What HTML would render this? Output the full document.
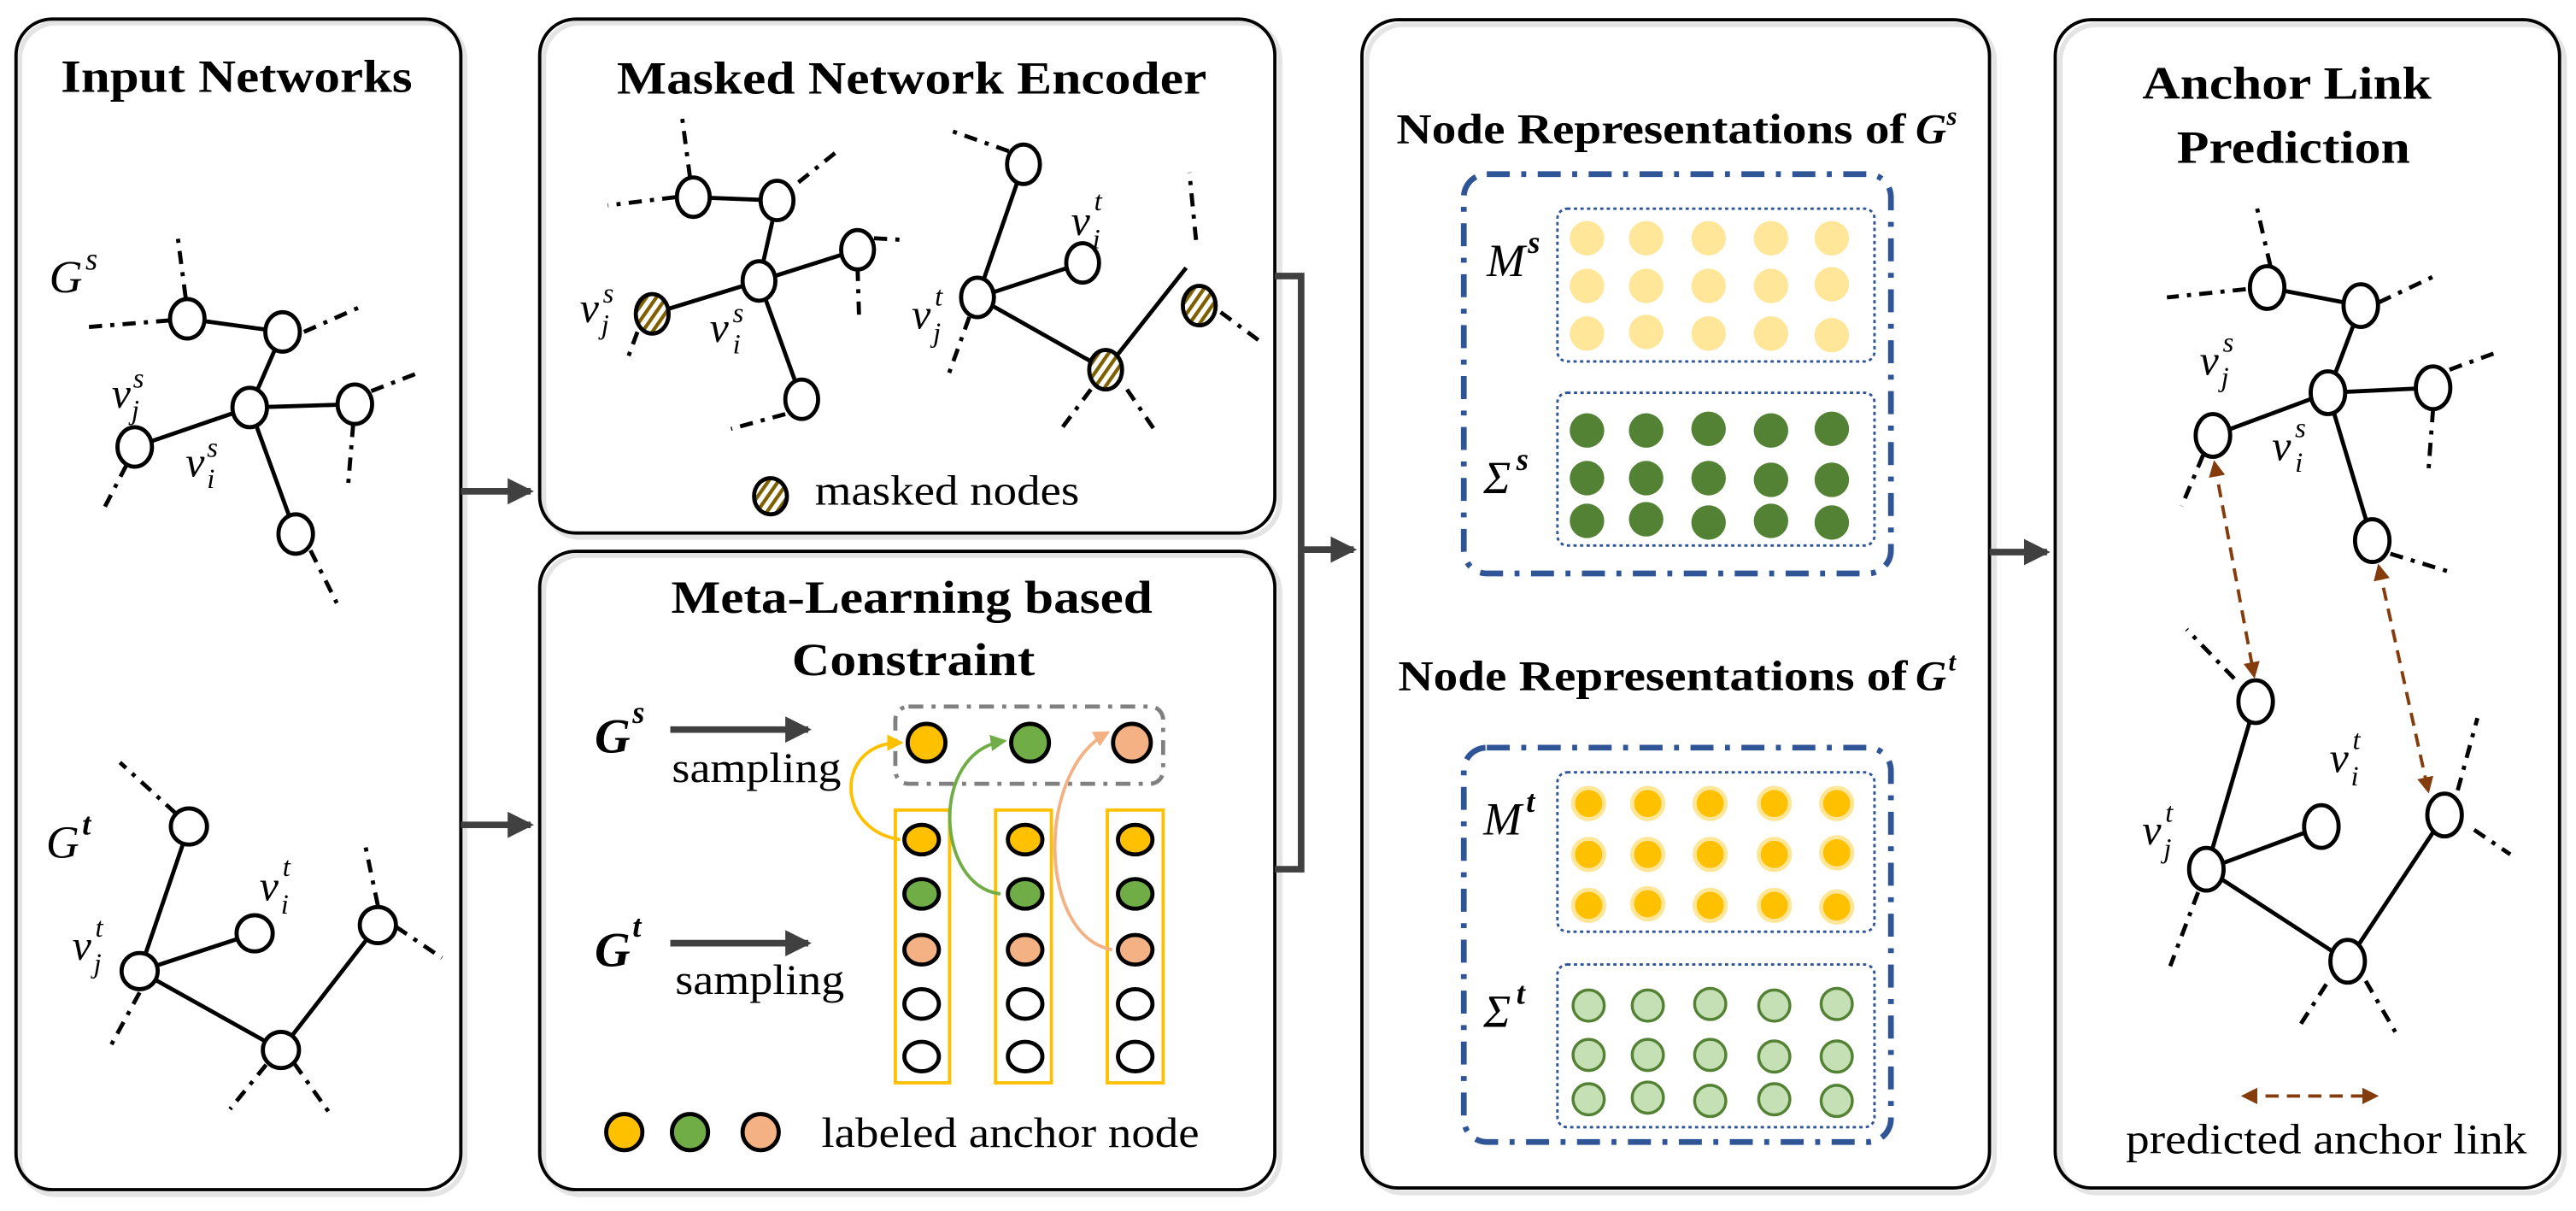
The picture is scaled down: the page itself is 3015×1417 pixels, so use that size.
<!DOCTYPE html>
<html><head><meta charset="utf-8"><style>
html,body{margin:0;padding:0;background:#fff;}
svg{display:block;}
text{font-family:"Liberation Serif",serif;}
</style></head><body>
<svg width="3015" height="1417" viewBox="0 0 1568 737" preserveAspectRatio="none" xmlns="http://www.w3.org/2000/svg">
<defs>
<pattern id="hatch" patternUnits="userSpaceOnUse" width="5" height="5" patternTransform="rotate(35)">
<rect width="5" height="5" fill="#fff"/><rect width="2.2" height="5" fill="#7F6000"/>
</pattern>
<marker id="ag" markerWidth="4" markerHeight="4" refX="3.5" refY="2" orient="auto" markerUnits="strokeWidth"><path d="M0,0 L4,2 L0,4 z" fill="#404040"/></marker>
<marker id="my" markerWidth="5" markerHeight="5" refX="4" refY="2.5" orient="auto" markerUnits="strokeWidth"><path d="M0,0 L5,2.5 L0,5 z" fill="#FFC000"/></marker>
<marker id="mg" markerWidth="5" markerHeight="5" refX="4" refY="2.5" orient="auto" markerUnits="strokeWidth"><path d="M0,0 L5,2.5 L0,5 z" fill="#70AD47"/></marker>
<marker id="mp" markerWidth="5" markerHeight="5" refX="4" refY="2.5" orient="auto" markerUnits="strokeWidth"><path d="M0,0 L5,2.5 L0,5 z" fill="#F4B183"/></marker>
<marker id="mb" markerWidth="5" markerHeight="5" refX="4" refY="2.5" orient="auto-start-reverse" markerUnits="strokeWidth"><path d="M0,0 L5,2.5 L0,5 z" fill="#843C0C"/></marker>
</defs>

<!-- panel shadows -->
<g fill="none" stroke="#e4e4e4" stroke-width="3">
<rect x="12" y="14" width="271" height="713" rx="22"/>
<rect x="331" y="14" width="448" height="313" rx="22"/>
<rect x="331" y="338" width="448" height="389" rx="22"/>
<rect x="832" y="15" width="382" height="711" rx="22"/>
<rect x="1254" y="15" width="307" height="711" rx="22"/>
</g>
<g fill="none" stroke="#000" stroke-width="2">
<rect x="9.75" y="11.6" width="270.75" height="712.4" rx="22"/>
<rect x="328.5" y="11.6" width="447.5" height="312.8" rx="22"/>
<rect x="328.5" y="335.5" width="447.5" height="388.5" rx="22"/>
<rect x="829" y="12" width="382" height="711" rx="22"/>
<rect x="1251" y="12" width="307" height="711" rx="22"/>
</g>

<!-- connectors -->
<g stroke="#404040" stroke-width="4" fill="none">
<line x1="280.5" y1="299" x2="323" y2="299" marker-end="url(#ag)"/>
<line x1="280.5" y1="502" x2="323" y2="502" marker-end="url(#ag)"/>
<polyline points="776,168 792,168 792,529 776,529"/>
<line x1="792" y1="334.5" x2="824" y2="334.5" marker-end="url(#ag)"/>
<line x1="1211" y1="336" x2="1246" y2="336" marker-end="url(#ag)"/>
</g>

<!-- titles -->
<g font-weight="bold" font-size="28" text-anchor="middle" fill="#000">
<text x="144" y="56" textLength="214" lengthAdjust="spacingAndGlyphs">Input Networks</text>
<text x="555" y="57" textLength="359" lengthAdjust="spacingAndGlyphs">Masked Network Encoder</text>
<text x="555" y="373" textLength="293" lengthAdjust="spacingAndGlyphs">Meta-Learning based</text>
<text x="556" y="411" textLength="148" lengthAdjust="spacingAndGlyphs">Constraint</text>
<text x="1392" y="60" textLength="176" lengthAdjust="spacingAndGlyphs">Anchor Link</text>
<text x="1396" y="99" textLength="142" lengthAdjust="spacingAndGlyphs">Prediction</text>
</g>
<g font-weight="bold" font-size="26" fill="#000">
<text x="850" y="87" textLength="310" lengthAdjust="spacingAndGlyphs">Node Representations of</text>
<text x="1166" y="87" font-style="italic">G</text><text x="1185" y="76" font-size="16" font-style="italic">s</text>
<text x="851" y="420" textLength="310" lengthAdjust="spacingAndGlyphs">Node Representations of</text>
<text x="1166" y="420" font-style="italic">G</text><text x="1186" y="408" font-size="16" font-style="italic">t</text>
</g>

<!-- ===== Panel 1 graphs ===== -->
<g stroke="#000" stroke-width="2.5" fill="none">
<line x1="114" y1="194" x2="172" y2="202"/><line x1="172" y1="202" x2="152" y2="248"/>
<line x1="152" y1="248" x2="216" y2="246"/><line x1="152" y1="248" x2="82" y2="272"/>
<line x1="152" y1="248" x2="180" y2="325"/>
<line x1="115" y1="503" x2="85" y2="591"/><line x1="85" y1="591" x2="155" y2="568"/>
<line x1="85" y1="591" x2="171" y2="639"/><line x1="171" y1="639" x2="230" y2="563"/>
</g>
<g stroke="#000" stroke-width="2.5" fill="none" stroke-dasharray="8 5 2.5 5">
<line x1="113" y1="181" x2="108" y2="143"/><line x1="103" y1="195" x2="54" y2="199"/>
<line x1="185" y1="202" x2="221" y2="186"/><line x1="226" y1="238" x2="257" y2="226"/>
<line x1="215" y1="258" x2="212" y2="294"/><line x1="77" y1="283" x2="63" y2="310"/>
<line x1="189" y1="335" x2="205" y2="367"/>
<line x1="107" y1="495" x2="73" y2="464"/><line x1="85" y1="604" x2="66" y2="639"/>
<line x1="230" y1="551" x2="222" y2="513"/><line x1="241" y1="564" x2="269" y2="583"/>
<line x1="162" y1="648" x2="140" y2="675"/><line x1="179" y1="647" x2="201" y2="678"/>
</g>
<g stroke="#000" stroke-width="2.5" fill="#fff">
<ellipse cx="114" cy="194" rx="10.5" ry="12"/><ellipse cx="172" cy="202" rx="10.5" ry="12"/>
<ellipse cx="152" cy="248" rx="10.5" ry="12"/><ellipse cx="216" cy="246" rx="10.5" ry="12"/>
<ellipse cx="82" cy="272" rx="10.5" ry="12"/><ellipse cx="180" cy="325" rx="10.5" ry="12"/>
<ellipse cx="115" cy="503" rx="11" ry="11"/><ellipse cx="155" cy="568" rx="11" ry="11"/>
<ellipse cx="85" cy="591" rx="11" ry="11"/><ellipse cx="230" cy="563" rx="11" ry="11"/>
<ellipse cx="171" cy="639" rx="11" ry="11"/>
</g>
<g font-style="italic" fill="#000" font-size="28">
<text x="30" y="178">G</text><text x="52" y="164" font-size="19">s</text>
<text x="28" y="522">G</text><text x="50" y="508" font-size="19" font-weight="bold">t</text>
<text x="68" y="248" font-size="26">v</text><text x="81" y="236" font-size="17">s</text><text x="80" y="255" font-size="17">j</text>
<text x="113" y="290" font-size="26">v</text><text x="126" y="278" font-size="17">s</text><text x="126" y="297" font-size="17">i</text>
<text x="158" y="548" font-size="26">v</text><text x="172" y="533" font-size="17">t</text><text x="171" y="556" font-size="17">i</text>
<text x="44" y="584" font-size="26">v</text><text x="58" y="570" font-size="17">t</text><text x="57" y="592" font-size="17">j</text>
</g>

<!-- ===== Masked encoder ===== -->
<g stroke="#000" stroke-width="2.5" fill="none">
<line x1="422" y1="120" x2="473" y2="122"/><line x1="473" y1="122" x2="462" y2="171"/>
<line x1="462" y1="171" x2="522" y2="152"/><line x1="462" y1="171" x2="397" y2="191"/>
<line x1="462" y1="171" x2="488" y2="243"/>
<line x1="623" y1="100" x2="595" y2="181"/><line x1="595" y1="181" x2="659" y2="160"/>
<line x1="595" y1="181" x2="673" y2="225"/><line x1="673" y1="225" x2="722" y2="163"/>
</g>
<g stroke="#000" stroke-width="2.5" fill="none" stroke-dasharray="8 5 2.5 5">
<line x1="420" y1="108" x2="415" y2="70"/><line x1="411" y1="120" x2="370" y2="125"/>
<line x1="486" y1="111" x2="511" y2="91"/><line x1="532" y1="145" x2="550" y2="146"/>
<line x1="522" y1="163" x2="523" y2="196"/><line x1="388" y1="202" x2="381" y2="221"/>
<line x1="478" y1="252" x2="445" y2="261"/>
<line x1="614" y1="92" x2="580" y2="80"/><line x1="590" y1="193" x2="577" y2="229"/>
<line x1="743" y1="190" x2="766" y2="207"/><line x1="728" y1="146" x2="724" y2="105"/>
<line x1="664" y1="237" x2="646" y2="261"/><line x1="686" y1="237" x2="703" y2="262"/>
</g>
<g stroke="#000" stroke-width="2.5" fill="#fff">
<ellipse cx="422" cy="120" rx="10" ry="12"/><ellipse cx="473" cy="122" rx="10" ry="12"/>
<ellipse cx="462" cy="171" rx="10" ry="12"/><ellipse cx="522" cy="152" rx="10" ry="12"/>
<ellipse cx="397" cy="191" rx="10" ry="12" fill="url(#hatch)"/><ellipse cx="488" cy="243" rx="10" ry="12"/>
<ellipse cx="623" cy="100" rx="10" ry="12"/><ellipse cx="659" cy="160" rx="10" ry="12"/>
<ellipse cx="595" cy="181" rx="10" ry="12"/><ellipse cx="730" cy="186" rx="10" ry="12" fill="url(#hatch)"/>
<ellipse cx="673" cy="225" rx="10" ry="12" fill="url(#hatch)"/>
<ellipse cx="469" cy="302" rx="10" ry="11" fill="url(#hatch)"/>
</g>
<g font-style="italic" fill="#000" font-size="26">
<text x="353" y="196">v</text><text x="367" y="184" font-size="17">s</text><text x="366" y="203" font-size="17">j</text>
<text x="432" y="208">v</text><text x="446" y="196" font-size="17">s</text><text x="446" y="215" font-size="17">i</text>
<text x="652" y="143">v</text><text x="666" y="128" font-size="17">t</text><text x="665" y="151" font-size="17">i</text>
<text x="555" y="200">v</text><text x="569" y="186" font-size="17">t</text><text x="568" y="208" font-size="17">j</text>
</g>
<text x="496" y="307" font-size="26" textLength="161" lengthAdjust="spacingAndGlyphs">masked nodes</text>

<!-- ===== Meta-learning ===== -->
<g font-style="italic" font-weight="bold" fill="#000" font-size="30">
<text x="362" y="458">G</text><text x="385" y="440" font-size="19">s</text>
<text x="362" y="588">G</text><text x="385" y="570" font-size="19">t</text>
</g>
<g stroke="#404040" stroke-width="4" fill="none">
<line x1="408" y1="444" x2="492" y2="444" marker-end="url(#ag)"/>
<line x1="408" y1="574" x2="492" y2="574" marker-end="url(#ag)"/>
</g>
<text x="409" y="476" font-size="26" textLength="103" lengthAdjust="spacingAndGlyphs">sampling</text>
<text x="411" y="605" font-size="26" textLength="103" lengthAdjust="spacingAndGlyphs">sampling</text>
<rect x="545" y="430" width="163" height="47" rx="8" fill="none" stroke="#808080" stroke-width="2.5" stroke-dasharray="9 5 2.5 5"/>
<g fill="none" stroke="#FFC000" stroke-width="2">
<rect x="545" y="493" width="33" height="166"/><rect x="606" y="493" width="34" height="166"/><rect x="674" y="493" width="34" height="166"/>
</g>
<g fill="none" stroke-width="2">
<path d="M548,511 C508,505 508,452 548,452" stroke="#FFC000" marker-end="url(#my)"/>
<path d="M609,544 C570,540 565,458 611,451" stroke="#70AD47" marker-end="url(#mg)"/>
<path d="M677,578 C632,570 630,470 674,446" stroke="#F4B183" marker-end="url(#mp)"/>
</g>
<g stroke="#000" stroke-width="2.5">
<ellipse cx="564" cy="452" rx="11.5" ry="11.5" fill="#FFC000"/>
<ellipse cx="627" cy="452" rx="11.5" ry="11.5" fill="#70AD47"/>
<ellipse cx="689" cy="452" rx="11.5" ry="11.5" fill="#F4B183"/>
<g id="col">
<ellipse cx="561" cy="511" rx="10.5" ry="9" fill="#FFC000"/>
<ellipse cx="561" cy="544" rx="10.5" ry="9" fill="#70AD47"/>
<ellipse cx="561" cy="578" rx="10.5" ry="9" fill="#F4B183"/>
<ellipse cx="561" cy="611" rx="10.5" ry="9" fill="#fff"/>
<ellipse cx="561" cy="643" rx="10.5" ry="9" fill="#fff"/>
</g>
<use href="#col" x="63"/><use href="#col" x="130"/>
<ellipse cx="380" cy="689" rx="11" ry="11" fill="#FFC000"/>
<ellipse cx="420" cy="689" rx="11" ry="11" fill="#70AD47"/>
<ellipse cx="463" cy="689" rx="11" ry="11" fill="#F4B183"/>
</g>
<text x="500" y="698" font-size="26" textLength="230" lengthAdjust="spacingAndGlyphs">labeled anchor node</text>

<!-- ===== Node representations ===== -->
<g fill="none" stroke="#2F5597">
<rect x="891" y="106" width="260" height="243" rx="14" stroke-width="3.5" stroke-dasharray="14 7 3 7"/>
<rect x="891" y="455" width="260" height="240" rx="14" stroke-width="3.5" stroke-dasharray="14 7 3 7"/>
<g stroke-width="1.5" stroke-dasharray="2 2">
<rect x="948" y="127" width="193" height="93" rx="6"/>
<rect x="948" y="239" width="193" height="93" rx="6"/>
<rect x="948" y="470" width="193" height="97" rx="6"/>
<rect x="948" y="587" width="193" height="99" rx="6"/>
</g>
</g>
<g fill="#FFE699">
<circle cx="966" cy="145" r="10.5"/><circle cx="1002" cy="145" r="10.5"/><circle cx="1040" cy="145" r="10.5"/><circle cx="1078" cy="145" r="10.5"/><circle cx="1115" cy="145" r="10.5"/>
<circle cx="966" cy="174" r="10.5"/><circle cx="1002" cy="174" r="10.5"/><circle cx="1040" cy="174" r="10.5"/><circle cx="1078" cy="174" r="10.5"/><circle cx="1115" cy="173" r="10.5"/>
<circle cx="966" cy="203" r="10.5"/><circle cx="1002" cy="202" r="10.5"/><circle cx="1040" cy="203" r="10.5"/><circle cx="1078" cy="203" r="10.5"/><circle cx="1115" cy="204" r="10.5"/>
</g>
<g fill="#548235">
<circle cx="966" cy="262" r="10.5"/><circle cx="1002" cy="262" r="10.5"/><circle cx="1040" cy="261" r="10.5"/><circle cx="1078" cy="262" r="10.5"/><circle cx="1115" cy="261" r="10.5"/>
<circle cx="966" cy="291" r="10.5"/><circle cx="1002" cy="291" r="10.5"/><circle cx="1040" cy="291" r="10.5"/><circle cx="1078" cy="292" r="10.5"/><circle cx="1115" cy="292" r="10.5"/>
<circle cx="966" cy="317" r="10.5"/><circle cx="1002" cy="316" r="10.5"/><circle cx="1040" cy="318" r="10.5"/><circle cx="1078" cy="317" r="10.5"/><circle cx="1115" cy="318" r="10.5"/>
</g>
<g fill="#FFC000" stroke="#FFE699" stroke-width="2.5">
<circle cx="967" cy="489" r="9.5"/><circle cx="1003" cy="489" r="9.5"/><circle cx="1041" cy="489" r="9.5"/><circle cx="1080" cy="489" r="9.5"/><circle cx="1118" cy="489" r="9.5"/>
<circle cx="967" cy="520" r="9.5"/><circle cx="1003" cy="520" r="9.5"/><circle cx="1041" cy="520" r="9.5"/><circle cx="1080" cy="520" r="9.5"/><circle cx="1118" cy="519" r="9.5"/>
<circle cx="967" cy="551" r="9.5"/><circle cx="1003" cy="550" r="9.5"/><circle cx="1041" cy="551" r="9.5"/><circle cx="1080" cy="551" r="9.5"/><circle cx="1118" cy="552" r="9.5"/>
</g>
<g fill="#C5E0B4" stroke="#548235" stroke-width="1.8">
<circle cx="967" cy="612" r="9.5"/><circle cx="1003" cy="612" r="9.5"/><circle cx="1041" cy="611" r="9.5"/><circle cx="1080" cy="612" r="9.5"/><circle cx="1118" cy="611" r="9.5"/>
<circle cx="967" cy="642" r="9.5"/><circle cx="1003" cy="642" r="9.5"/><circle cx="1041" cy="642" r="9.5"/><circle cx="1080" cy="643" r="9.5"/><circle cx="1118" cy="643" r="9.5"/>
<circle cx="967" cy="669" r="9.5"/><circle cx="1003" cy="668" r="9.5"/><circle cx="1041" cy="670" r="9.5"/><circle cx="1080" cy="669" r="9.5"/><circle cx="1118" cy="670" r="9.5"/>
</g>
<g font-style="italic" fill="#000" font-size="28">
<text x="905" y="168">M</text><text x="930" y="154" font-size="19" font-weight="bold">s</text>
<text x="903" y="300">Σ</text><text x="923" y="286" font-size="19" font-weight="bold">s</text>
<text x="903" y="508">M</text><text x="929" y="494" font-size="19" font-weight="bold">t</text>
<text x="903" y="625">Σ</text><text x="923" y="611" font-size="19" font-weight="bold">t</text>
</g>

<!-- ===== Anchor link prediction ===== -->
<g stroke="#000" stroke-width="2.5" fill="none">
<line x1="1380" y1="175" x2="1437" y2="186"/><line x1="1437" y1="186" x2="1417" y2="239"/>
<line x1="1417" y1="239" x2="1481" y2="236"/><line x1="1417" y1="239" x2="1347" y2="265"/>
<line x1="1417" y1="239" x2="1444" y2="329"/>
<line x1="1373" y1="427" x2="1343" y2="529"/><line x1="1343" y1="529" x2="1413" y2="503"/>
<line x1="1343" y1="529" x2="1429" y2="585"/><line x1="1429" y1="585" x2="1488" y2="496"/>
</g>
<g stroke="#000" stroke-width="2.5" fill="none" stroke-dasharray="8 5 2.5 5">
<line x1="1382" y1="162" x2="1373" y2="123"/><line x1="1367" y1="176" x2="1319" y2="181"/>
<line x1="1448" y1="184" x2="1484" y2="167"/><line x1="1491" y1="225" x2="1521" y2="214"/>
<line x1="1481" y1="249" x2="1478" y2="289"/><line x1="1341" y1="277" x2="1328" y2="308"/>
<line x1="1455" y1="337" x2="1491" y2="348"/>
<line x1="1360" y1="413" x2="1331" y2="383"/><line x1="1338" y1="543" x2="1321" y2="588"/>
<line x1="1496" y1="481" x2="1508" y2="437"/><line x1="1506" y1="505" x2="1528" y2="520"/>
<line x1="1416" y1="599" x2="1398" y2="627"/><line x1="1440" y1="597" x2="1458" y2="628"/>
</g>
<g stroke="#000" stroke-width="2.5" fill="#fff">
<ellipse cx="1380" cy="175" rx="10.5" ry="13"/><ellipse cx="1437" cy="186" rx="10.5" ry="13"/>
<ellipse cx="1417" cy="239" rx="10.5" ry="13"/><ellipse cx="1481" cy="236" rx="10.5" ry="13"/>
<ellipse cx="1347" cy="265" rx="10.5" ry="13"/><ellipse cx="1444" cy="329" rx="10.5" ry="13"/>
<ellipse cx="1373" cy="427" rx="10.5" ry="13"/><ellipse cx="1413" cy="503" rx="10.5" ry="13"/>
<ellipse cx="1343" cy="529" rx="10.5" ry="13"/><ellipse cx="1488" cy="496" rx="10.5" ry="13"/>
<ellipse cx="1429" cy="585" rx="10.5" ry="13"/>
</g>
<g stroke="#843C0C" stroke-width="2" fill="none" stroke-dasharray="8 5">
<line x1="1348" y1="282" x2="1372" y2="411" marker-start="url(#mb)" marker-end="url(#mb)"/>
<line x1="1448" y1="345" x2="1478" y2="481" marker-start="url(#mb)" marker-end="url(#mb)"/>
<line x1="1366" y1="667" x2="1446" y2="667" marker-start="url(#mb)" marker-end="url(#mb)"/>
</g>
<g font-style="italic" fill="#000" font-size="26">
<text x="1339" y="228">v</text><text x="1353" y="214" font-size="17">s</text><text x="1352" y="235" font-size="17">j</text>
<text x="1383" y="280">v</text><text x="1397" y="266" font-size="17">s</text><text x="1397" y="287" font-size="17">i</text>
<text x="1418" y="470">v</text><text x="1432" y="456" font-size="17">t</text><text x="1431" y="478" font-size="17">i</text>
<text x="1304" y="514">v</text><text x="1318" y="500" font-size="17">t</text><text x="1317" y="522" font-size="17">j</text>
</g>
<text x="1294" y="702" font-size="26" textLength="244" lengthAdjust="spacingAndGlyphs">predicted anchor link</text>
</svg>
</body></html>
